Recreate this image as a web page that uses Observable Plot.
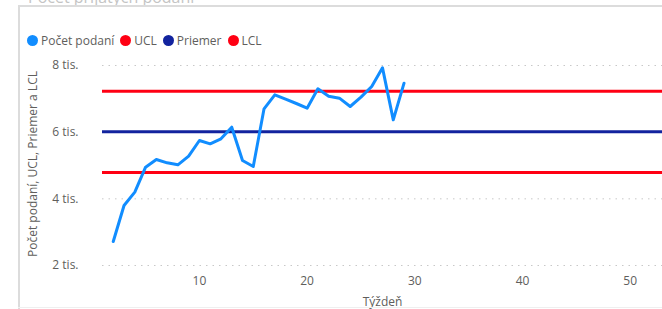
<!DOCTYPE html>
<html>
<head>
<meta charset="utf-8">
<script src="https://cdn.jsdelivr.net/npm/d3@7"></script>
<script src="https://cdn.jsdelivr.net/npm/@observablehq/plot@0.6"></script>
<style>
  html, body { margin: 0; padding: 0; background: #fff; }
  #wrap { position: relative; width: 662px; height: 309px; overflow: hidden; font-family: "Open Sans", "Noto Sans", sans-serif; }
  #head { position: relative; width: 662px; height: 50px; }
  #title { position: absolute; left: 28px; top: -14px; font-size: 16px; color: #c4c4c4; white-space: nowrap; }
  #legend { position: absolute; left: 27px; top: 32px; display: flex; align-items: center; font-size: 12px; color: #605E5C; white-space: nowrap; }
  .item { display: flex; align-items: center; margin-right: 6px; }
  .dot { width: 11px; height: 11px; border-radius: 50%; margin-right: 3px; }
  .bl { position: absolute; background: #dcdcdc; }
  svg { display: block; overflow: visible; }
</style>
</head>
<body>
<div id="wrap">
  <div id="head">
    <div id="title">Počet prijatých podaní</div>
    <div id="legend"></div>
  </div>
  <div id="chart"></div>
  <div class="bl" style="left:18px; top:5px; width:644px; height:2px;"></div>
  <div class="bl" style="left:18px; top:5px; width:2px; height:304px;"></div>
  <div class="bl" style="left:18px; top:307px; width:644px; height:1px; background:#efefef;"></div>
</div>
<script>
const weeks = [2,3,4,5,6,7,8,9,10,11,12,13,14,15,16,17,18,19,20,21,22,23,24,25,26,27,28,29];
const podania = [2720,3800,4200,4950,5180,5080,5020,5280,5750,5650,5800,6150,5150,4970,6700,7120,6990,6860,6720,7300,7080,7020,6770,7050,7370,7930,6370,7470];
const ucl = 7230;
const priemer = 6010;
const lcl = 4790;
const yTicks = [2000,4000,6000,8000];
const xTicks = [10,20,30,40,50];
const seriesNames = ["Počet podaní","UCL","Priemer","LCL"];
const seriesColors = ["#118DFF","#FF0013","#12239E","#FF0013"];

const legend = document.getElementById("legend");
seriesNames.forEach((n,i) => {
  const it = document.createElement("div"); it.className = "item";
  const d = document.createElement("div"); d.className = "dot"; d.style.background = seriesColors[i];
  const t = document.createElement("span"); t.textContent = n;
  it.appendChild(d); it.appendChild(t); legend.appendChild(it);
});

const data = weeks.map((w,i) => ({week: w, value: podania[i]}));

const chart = Plot.plot({
  width: 662,
  height: 259,
  marginLeft: 102,
  marginRight: 0,
  marginTop: 5,
  marginBottom: 37,
  style: {fontFamily: "'Open Sans', 'Noto Sans', sans-serif", fontSize: "12px", color: "#605E5C", background: "transparent", overflow: "visible"},
  x: {domain: [1, 53], ticks: xTicks},
  y: {domain: [2000, 8000], range: [215, 15], ticks: yTicks},
  marks: [
    Plot.gridY(yTicks, {stroke: "#c8c8c8", strokeOpacity: 1, strokeDasharray: "1.5,5"}),
    Plot.axisY(yTicks, {tickSize: 0, tickPadding: 24, tickFormat: d => (d/1000) + " tis.", label: null, fill: "#605E5C", fontSize: 12}),
    Plot.axisX(xTicks, {tickSize: 0, tickPadding: 4, label: null, fill: "#605E5C", fontSize: 12}),
    Plot.text(["Týždeň"], {frameAnchor: "bottom", dy: 33, fontSize: 12, fill: "#605E5C"}),
    Plot.text(["Počet podaní, UCL, Priemer a LCL"], {frameAnchor: "left", textAnchor: "middle", rotate: -90, dx: -69, fontSize: 12, fill: "#605E5C"}),
    Plot.ruleY([ucl], {stroke: seriesColors[1], strokeWidth: 3}),
    Plot.ruleY([priemer], {stroke: seriesColors[2], strokeWidth: 3}),
    Plot.ruleY([lcl], {stroke: seriesColors[3], strokeWidth: 3}),
    Plot.line(data, {x: "week", y: "value", stroke: seriesColors[0], strokeWidth: 3, strokeLinejoin: "round", strokeLinecap: "round"})
  ]
});
document.getElementById("chart").appendChild(chart);
</script>
</body>
</html>
